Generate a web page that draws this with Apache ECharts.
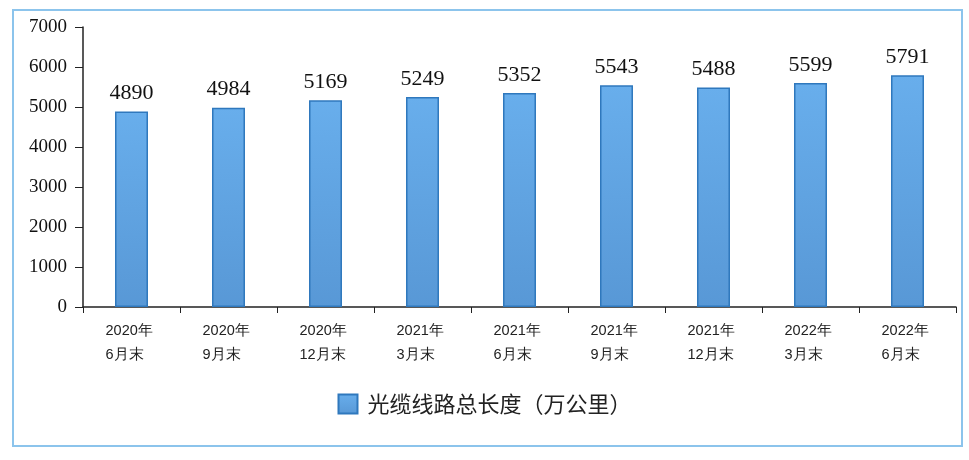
<!DOCTYPE html>
<html><head><meta charset="utf-8">
<script src="https://cdn.jsdelivr.net/npm/echarts@6/dist/echarts.min.js"></script>
<style>html,body{margin:0;padding:0;background:#fff}#c{width:969px;height:460px}</style>
</head><body><div id="c"></div>
<script>
var categories = ['2020年\n6月末','2020年\n9月末','2020年\n12月末','2021年\n3月末','2021年\n6月末','2021年\n9月末','2021年\n12月末','2022年\n3月末','2022年\n6月末'];
var values = [4890,4984,5169,5249,5352,5543,5488,5599,5791];
var seriesName = '光缆线路总长度（万公里）';
var chart = echarts.init(document.getElementById('c'));
chart.setOption({
  animation:false,
  graphic:[{type:'rect',shape:{x:13,y:10,width:949,height:436},style:{fill:'none',stroke:'#8cc4ec',lineWidth:2}}],
  legend:{bottom:40,left:'center',icon:'rect',itemWidth:19,itemHeight:19,itemGap:10,
    textStyle:{fontFamily:'Noto Sans CJK SC',fontSize:22,color:'#222',padding:[0,0,0,5]},data:[seriesName]},
  grid:{left:83,right:13,top:27,bottom:153},
  xAxis:{type:'category',data:categories,
    axisLine:{lineStyle:{color:'#222',width:1.5}},
    axisTick:{show:true,length:6,lineStyle:{color:'#222'}},
    axisLabel:{fontFamily:'Liberation Sans',fontSize:14.5,color:'#222',margin:12,lineHeight:24,align:'left',padding:[0,0,0,-26]}},
  yAxis:{type:'value',min:0,max:7000,interval:1000,
    axisLine:{show:true,lineStyle:{color:'#222',width:1.5}},
    axisTick:{show:true,length:8,lineStyle:{color:'#222'}},
    splitLine:{show:false},
    axisLabel:{fontFamily:'Liberation Serif',fontSize:19,color:'#111',margin:16,formatter:function(v){return String(v);}}},
  series:[{name:seriesName,type:'bar',data:values,barWidth:'34%',
    itemStyle:{color:new echarts.graphic.LinearGradient(0,0,0,1,[{offset:0,color:'#68aeec'},{offset:1,color:'#5898d6'}]),
      borderColor:'#2f78bd',borderWidth:1.5},
    label:{show:true,position:'top',distance:7,fontFamily:'Liberation Serif',fontSize:22,color:'#111'}}]
});
</script></body></html>
